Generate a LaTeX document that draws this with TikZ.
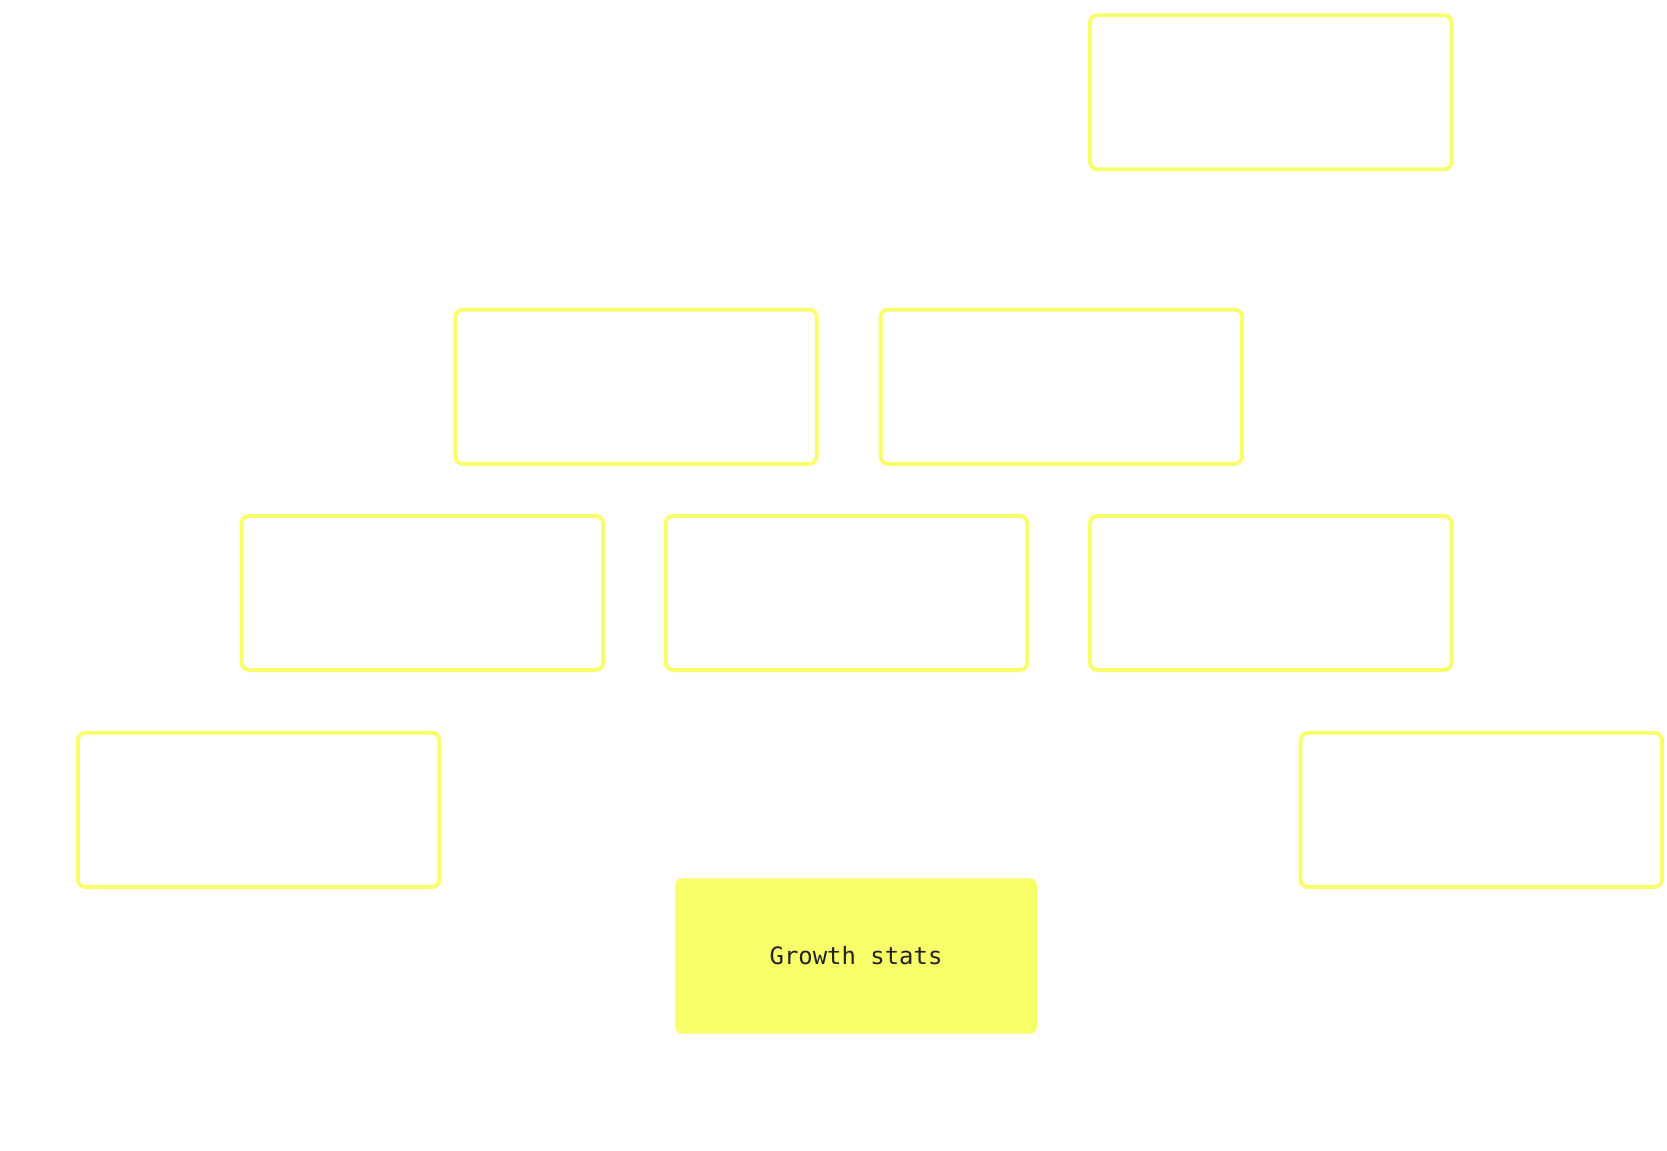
\documentclass[tikz,border=0pt]{standalone}
\usepackage{fontspec}
\newfontfamily\monofont{DejaVu Sans Mono}
\definecolor{hl}{HTML}{F8FF68}
\definecolor{txt}{HTML}{222222}
\begin{document}
\begin{tikzpicture}[x=1pt,y=-1pt,
  card/.style={draw=hl,line width=3.6pt,rounded corners=7pt,minimum width=340pt,minimum height=145pt,inner sep=0pt,anchor=north west},
  filledcard/.style={fill=hl,rounded corners=6pt,minimum width=340pt,minimum height=146pt,inner sep=0pt,anchor=north west,
    font=\monofont\fontsize{22.5}{26}\selectfont,text=txt}]
\useasboundingbox (0,0) rectangle (1568,1082);
\fill[white] (0,0) rectangle (1568,1082);
\node[card] (a) at (1023.5,12.5) {};
\node[card] (b) at (426.5,289.5) {};
\node[card] (c) at (826.5,289.5) {};
\node[card] (d) at (225.5,483.5) {};
\node[card] (e) at (624.5,483.5) {};
\node[card] (f) at (1023.5,483.5) {};
\node[card] (g) at (71.5,687.5) {};
\node[card] (h) at (1221.5,687.5) {};
\node[filledcard] (s) at (635,826) {Growth stats};
\end{tikzpicture}
\end{document}
